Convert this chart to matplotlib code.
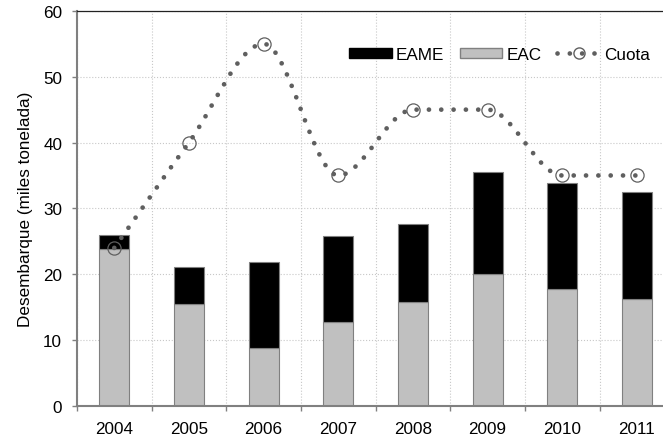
import matplotlib.pyplot as plt
import numpy as np
from matplotlib.path import Path
from matplotlib.patches import PathPatch, Patch
from matplotlib.lines import Line2D

plt.rcParams['font.family'] = ['Liberation Sans', 'DejaVu Sans']

years = ['2004', '2005', '2006', '2007', '2008', '2009', '2010', '2011']
eac = [23.9, 15.5, 8.8, 12.8, 15.8, 20.0, 17.7, 16.2]
eame = [2.1, 5.6, 13.1, 13.0, 11.8, 15.5, 16.1, 16.3]
cuota = [24, 40, 55, 35, 45, 45, 35, 35]

grid_c = '#c8c8c8'
spine_c = '#808080'
line_c = '#5f5f5f'
fs = 12.3

fig = plt.figure(figsize=(6.63, 4.39), dpi=100)
ax = fig.add_axes([0.116, 0.073, 0.901, 0.9])

x = np.arange(len(years))
ax.bar(x, eac, width=0.40, color='#c0c0c0', edgecolor=spine_c, linewidth=0.8, zorder=2)
ax.bar(x, eame, width=0.40, bottom=eac, color='black', edgecolor=spine_c, linewidth=0.8, zorder=2)

# smoothed line through the points (monotone tangents, no overshoot)
xs = x.astype(float)
ys = np.array(cuota, dtype=float)
d = np.diff(ys)
m = np.zeros(len(ys))
for i in range(1, len(ys) - 1):
    if d[i - 1] * d[i] > 0:
        m[i] = 2.0 / (1.0 / d[i - 1] + 1.0 / d[i])
m[0] = d[0]
m[-1] = d[-1]
verts = [(xs[0], ys[0])]
codes = [Path.MOVETO]
for i in range(len(ys) - 1):
    verts += [(xs[i] + 1 / 3, ys[i] + m[i] / 3),
              (xs[i + 1] - 1 / 3, ys[i + 1] - m[i + 1] / 3),
              (xs[i + 1], ys[i + 1])]
    codes += [Path.CURVE4] * 3
patch = PathPatch(Path(verts, codes), facecolor='none', edgecolor=line_c, linewidth=3.4,
                  linestyle=(0, (0.01, 2.6)), capstyle='round', zorder=3)
ax.add_patch(patch)
ax.plot(x, cuota, linestyle='none', marker='o', markersize=9.5, markerfacecolor='none',
        markeredgecolor=line_c, markeredgewidth=0.9, zorder=4)

ax.set_xlim(-0.5, len(years) - 0.5)
ax.set_ylim(0, 60)
ax.set_yticks(range(0, 61, 10))
ax.set_xticks(x)
ax.set_xticklabels(years)
ax.set_xticks(np.arange(-0.5, len(years), 1), minor=True)
ax.tick_params(axis='x', which='major', length=0, labelsize=fs, pad=11)
ax.tick_params(axis='x', which='minor', length=3.5, color=spine_c, width=1)
ax.tick_params(axis='y', length=3.6, color=spine_c, width=1, labelsize=fs, pad=7)

ax.grid(axis='y', color=grid_c, linestyle=':', linewidth=0.8, zorder=0)
ax.grid(axis='x', which='minor', color=grid_c, linestyle=':', linewidth=0.8, zorder=0)
ax.set_axisbelow(True)

ax.spines['right'].set_visible(False)
ax.spines['top'].set_color('#222222')
ax.spines['top'].set_linewidth(0.9)
for s in ['left', 'bottom']:
    ax.spines[s].set_color(spine_c)
    ax.spines[s].set_linewidth(1.5)

ax.set_ylabel('Desembarque (miles tonelada)', fontsize=fs, labelpad=7)

handles = [Patch(facecolor='black', edgecolor='black'),
           Patch(facecolor='#c0c0c0', edgecolor=spine_c),
           Line2D([], [], color=line_c, linewidth=3.4, linestyle=(0, (0.01, 2.6)),
                  dash_capstyle='round', marker='o', markersize=8,
                  markerfacecolor='none', markeredgecolor=line_c)]
fig.legend(handles, ['EAME', 'EAC', 'Cuota'], loc='upper right',
           bbox_to_anchor=(662 / 663, 1 - 36 / 439), ncol=3, frameon=False, fontsize=fs,
           handlelength=2.5, handleheight=0.6, columnspacing=0.9, handletextpad=0.25,
           borderpad=0.2)

fig.savefig('out.png', dpi=100)
